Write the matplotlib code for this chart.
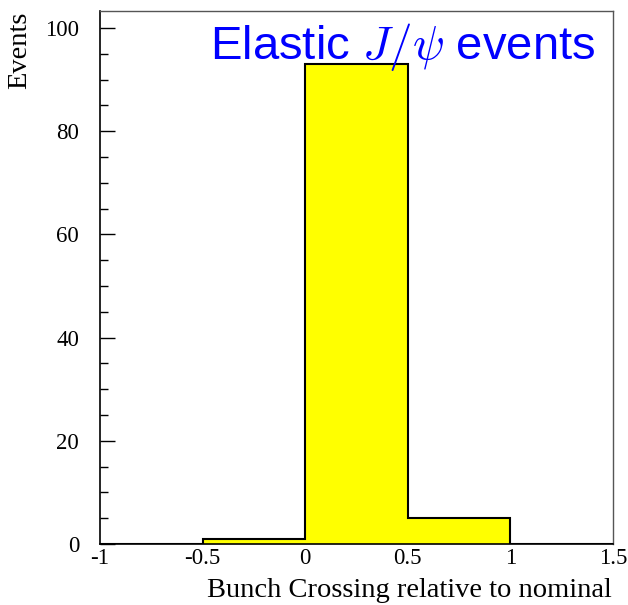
import matplotlib
matplotlib.use("Agg")
from matplotlib import pyplot as plt
from matplotlib.ticker import MultipleLocator
import numpy as np

# histogram bins: bunch crossing relative to nominal
bin_edges = [-1.0, -0.5, 0.0, 0.5, 1.0, 1.5]
counts = [0, 1, 93, 5, 0]

x_ticks = [-1, -0.5, 0, 0.5, 1, 1.5]
x_tick_labels = ['-1', '-0.5', '0', '0.5', '1', '1.5']
y_ticks = [0, 20, 40, 60, 80, 100]

plt.rcParams['mathtext.fontset'] = 'cm'
serif = ['Liberation Serif', 'DejaVu Serif']

fig = plt.figure(figsize=(6.28, 6.05), dpi=100)
ax = fig.add_axes([100 / 628, 61 / 605, 513 / 628, 533 / 605])

ax.stairs(counts, bin_edges, fill=True, color='#ffff00', baseline=0)
ax.stairs(counts, bin_edges, color='black', linewidth=1.5, baseline=0)

ax.set_xlim(-1, 1.5)
ax.set_ylim(0, 103.3)

ax.set_xticks(x_ticks)
ax.set_xticklabels(x_tick_labels, fontfamily=serif, fontsize=16.5)
ax.tick_params(axis='x', length=0, pad=3)

ax.set_yticks(y_ticks)
ax.yaxis.set_minor_locator(MultipleLocator(5))
ax.tick_params(axis='y', which='major', direction='in', length=11, width=1, labelsize=16.5, pad=15)
ax.tick_params(axis='y', which='minor', direction='in', length=6, width=1)
for lbl in ax.get_yticklabels():
    lbl.set_fontfamily(serif)

for side in ['left', 'bottom']:
    ax.spines[side].set_linewidth(1.2)
for side in ['top', 'right']:
    ax.spines[side].set_color('#555555')
    ax.spines[side].set_linewidth(1.0)

ax.text(0.965, 0.982, r'Elastic $J/\psi$ events', transform=ax.transAxes,
        ha='right', va='top', color='#0000ff', fontsize=34,
        fontfamily=['Liberation Sans', 'DejaVu Sans'])

fig.text(612 / 628, 2 / 605, 'Bunch Crossing relative to nominal', ha='right', va='bottom',
         fontsize=20.5, fontfamily=serif)
fig.text(20 / 628, 1 - 12 / 605, 'Events', rotation=90, ha='center', va='top',
         fontsize=20.5, fontfamily=serif)

fig.savefig('out.png', dpi=100)
